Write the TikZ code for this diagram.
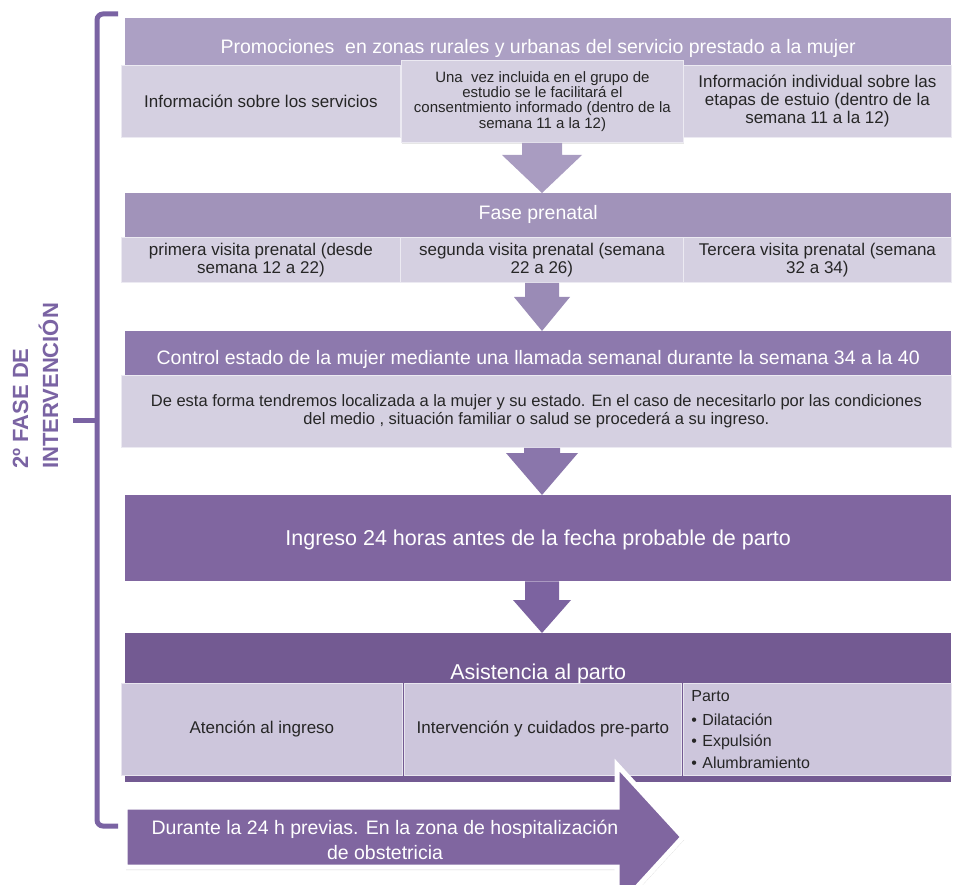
\documentclass[tikz,border=0pt]{standalone}
\usepackage{fontspec}
\setmainfont{Liberation Sans}
\usetikzlibrary{positioning, calc, shadows}

\definecolor{hdrA}{HTML}{ACA0C4}
\definecolor{hdrB}{HTML}{A193BA}
\definecolor{hdrC}{HTML}{8D79AD}
\definecolor{hdrD}{HTML}{8066A0}
\definecolor{hdrE}{HTML}{735A92}
\definecolor{cellA}{HTML}{D5D0E1}
\definecolor{cellE}{HTML}{CDC6DC}
\definecolor{arwA}{HTML}{A99CC1}
\definecolor{arwB}{HTML}{9A8BB6}
\definecolor{arwC}{HTML}{8A76AB}
\definecolor{arwD}{HTML}{7C63A0}
\definecolor{bracec}{HTML}{7A63A3}
\definecolor{txt}{HTML}{262626}

% header text sits off centre: raise it by #1 pt
\newcommand{\hdrtext}[2]{\raisebox{#1pt}[0pt][0pt]{#2}}

\begin{document}
\begin{tikzpicture}[x=1pt, y=-1pt,
    hdr/.style={fill=#1, text=white, inner sep=0, anchor=north west,
      font=\fontsize{19.5}{22}\selectfont},
    cell/.style={fill=#1, draw=white!55!#1, line width=0.8pt, inner sep=0,
      anchor=north west, align=center, text=txt, font=\fontsize{17}{18}\selectfont},
    cell/.default=cellA,
    brace/.style={draw=bracec, line width=5pt, rounded corners=6pt},
    lbl/.style={rotate=90, align=left, inner sep=0, text=bracec,
      font=\bfseries\fontsize{22}{30}\selectfont},
    bigarw/.style={fill=hdrD, draw=white, line width=5pt,
      drop shadow={opacity=0.3, shadow xshift=1pt, shadow yshift=-3pt}}]
  \useasboundingbox (0,0) rectangle (953,885);
  \coordinate (mid) at (542,0);

  % bracket and phase label
  \draw[brace] (118,14) -- (97,14) -- (97,826) -- (118,826);
  \draw[brace] (97,420) -- (73,420);
  \node[lbl] (fase) at (35.5,386) {2º FASE DE\\INTERVENCIÓN};

  % Promociones
  \node[hdr=hdrA, minimum width=826, minimum height=47] (prom) at (125,18)
    {\hdrtext{-11.5}{Promociones\ \ en zonas rurales y urbanas del servicio prestado a la mujer}};
  \node[cell, minimum width=279, minimum height=72] (c11) at (121,65) {Información sobre los servicios};
  \node[cell, minimum width=268, minimum height=72] (c13) at (683,65)
    {Información individual sobre las\\etapas de estuio (dentro de la\\semana 11 a la 12)};
  \node[cell, minimum width=282, minimum height=82, font=\fontsize{15}{15.3}\selectfont,
    drop shadow={opacity=0.2, shadow xshift=1pt, shadow yshift=-1.5pt}] (c12) at (401,60)
    {Una\ \ vez incluida en el grupo de\\estudio se le facilitará el\\consentmiento informado (dentro de la\\semana 11 a la 12)};

  % Fase prenatal
  \node[hdr=hdrB, minimum width=826, minimum height=44] (pren) at (125,193) {\hdrtext{-4}{Fase prenatal}};
  \foreach \i/\x/\w/\t in {1/121/279/{primera visita prenatal (desde\\semana 12 a 22)},
      2/400/283/{segunda visita prenatal (semana\\22 a 26)},
      3/683/268/{Tercera visita prenatal (semana\\32 a 34)}}{
    \node[cell, minimum width=\w, minimum height=45] (c2\i) at (\x,237) {\t};
  }

  % Control
  \node[hdr=hdrC, minimum width=826, minimum height=44] (ctrl) at (125,331)
    {\hdrtext{-11}{Control estado de la mujer mediante una llamada semanal durante la semana 34 a la 40}};
  \node[cell, minimum width=830, minimum height=72, font=\fontsize{16.5}{18}\selectfont] (cdesc) at (121,375)
    {De esta forma tendremos localizada a la mujer y su estado. En el caso de necesitarlo por las condiciones\\del medio , situación familiar o salud se procederá a su ingreso.};

  % Ingreso
  \node[hdr=hdrD, minimum width=826, minimum height=86, font=\fontsize{21.5}{24}\selectfont] (ingr) at (125,495)
    {\hdrtext{-7}{Ingreso 24 horas antes de la fecha probable de parto}};

  % Asistencia al parto
  \node[hdr=hdrE, minimum width=826, minimum height=149, font=\fontsize{21.5}{24}\selectfont] (asist) at (125,633)
    {\hdrtext{28.5}{Asistencia al parto}};
  \node[cell=cellE, minimum width=281, minimum height=92] (c51) at (121,683) {Atención al ingreso};
  \node[cell=cellE, minimum width=277, minimum height=92] (c52) at (404,683) {Intervención y cuidados pre-parto};
  \node[cell=cellE, minimum width=268, minimum height=92, text width=252, align=left,
    font=\fontsize{16}{21.5}\selectfont] (c53) at (683,683)
    {Parto\\[2pt]\textbullet\ Dilatación\\\textbullet\ Expulsión\\\textbullet\ Alumbramiento};

  % down arrows between the blocks
  \foreach \src/\dst/\col/\sw/\hw/\hl in {c12/pren/arwA/20/40/38, c22/ctrl/arwB/17/28/34,
      cdesc/ingr/arwC/18/36/42, ingr/asist/arwD/17/29/33}{
    \fill[\col] ($(mid |- \src.south)+(-\sw,0)$) -- ($(mid |- \src.south)+(\sw,0)$)
      -- ($(mid |- \dst.north)+(\sw,-\hl)$) -- ($(mid |- \dst.north)+(\hw,-\hl)$)
      -- (mid |- \dst.north) -- ($(mid |- \dst.north)+(-\hw,-\hl)$)
      -- ($(mid |- \dst.north)+(-\sw,-\hl)$) -- cycle;
  }

  % Durante la 24 h
  \filldraw[bigarw] (125,807) -- (617,807) -- (617,765) -- (683,837) -- (617,909)
    -- (617,867) -- (125,867) -- cycle;
  \node[text=white, align=center, font=\fontsize{19.5}{25}\selectfont] (dur) at (385,839.5)
    {Durante la 24 h previas. En la zona de hospitalización\\de obstetricia};
\end{tikzpicture}
\end{document}
